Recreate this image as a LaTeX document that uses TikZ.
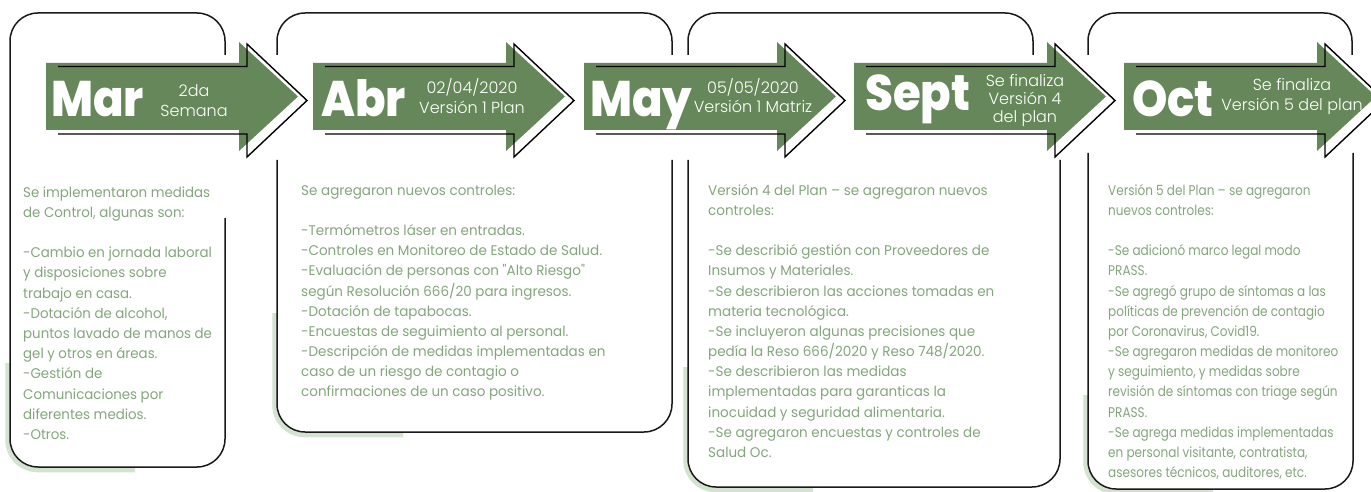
\documentclass[tikz,border=0pt]{standalone}
\usepackage{fontspec}
\setmainfont{Poppins}
\IfFontExistsTF{Poppins Light}{\newfontfamily\lightf{Poppins Light}}{\newfontfamily\lightf{Poppins}}
\IfFontExistsTF{Poppins ExtraBold}{\newfontfamily\heavyf{Poppins ExtraBold}[FakeStretch=0.9]}{%
  \IfFontExistsTF{Poppins Bold}{\newfontfamily\heavyf{Poppins Bold}[FakeStretch=0.9]}{\newfontfamily\heavyf{Poppins}[FakeStretch=0.9]}}
\newfontfamily\bodyf{Poppins}[FakeStretch=0.955]
\newfontfamily\bodyg{Poppins}[FakeStretch=0.965]
\newfontfamily\bodyh{Poppins}[FakeStretch=0.86]
\definecolor{arrowgreen}{RGB}{102,135,90}
\definecolor{textgreen}{RGB}{132,166,124}
\definecolor{shadowgreen}{RGB}{211,227,208}
\definecolor{linegray}{RGB}{25,25,25}
\begin{document}
\begin{tikzpicture}[x=1pt,y=-1pt,
  panel/.style={draw=linegray, line width=1.5pt, rounded corners=28pt},
  shade/.style={draw=shadowgreen, line width=4.5pt, rounded corners=30pt},
  greenarrow/.style={fill=arrowgreen},
  arrowline/.style={draw=black, line width=1.4pt, line join=miter},
  month/.style={anchor=base west, inner sep=0pt, text=white, font=\heavyf\fontsize{50}{50}\selectfont},
  sub/.style={anchor=base, inner sep=0pt, text=white, font=\lightf\fontsize{16}{19.5}\selectfont},
  body/.style={anchor=base west, inner sep=0pt, text=textgreen, font=\bodyf\fontsize{14}{20.2}\selectfont}]
\useasboundingbox (0,0) rectangle (1371,492);
\fill[white] (0,0) rectangle (1371,492);

% shadows
\draw[shade] (7.5,363) -- (7.5,470) -- (135,470);
\draw[shade] (274.5,313) -- (274.5,435) -- (403,435);
\draw[shade] (685.5,367) -- (685.5,490) -- (813,490);
\draw[shade] (1085.5,395) -- (1085.5,492) -- (1213,492);

% panels
\draw[panel] (225,55) -- (225,13) -- (10,13) -- (10,467) -- (225,467) -- (225,218);
\draw[panel] (277,55) -- (277,13) -- (672,13) -- (672,55);
\draw[panel] (277,160) -- (277,432) -- (672,432) -- (672,160);
\draw[panel] (688,55) -- (688,13) -- (1033,13) -- (1033,55);
\draw[panel] (688,160) -- (688,487) -- (1060,487) -- (1060,160);
\draw[panel] (1088,55) -- (1088,13) -- (1352,13) -- (1352,55);
\draw[panel] (1088,153) -- (1088,489) -- (1353,489) -- (1353,153);

% arrows
\foreach \x in {46,313,584,854,1124}{
  \fill[greenarrow] (\x,63) -- (\x+193,63) -- (\x+193,42) -- (\x+252,96.5) -- (\x+193,151) -- (\x+193,130) -- (\x,130) -- cycle;
  \draw[arrowline] (\x+12,66.5) -- (\x+201,66.5) -- (\x+201,44) -- (\x+261,100.5) -- (\x+201,157) -- (\x+201,134) -- (\x+12,134);
}

% month labels
\node[month] (mar) at (51,117) {Mar};
\node[month] (abr) at (321,117) {Abr};
\node[month] (may) at (590,117) {May};
\node[month] (sept) at (865,111) {Sept};
\node[month] (oct) at (1132,117) {Oct};

\node[sub] (marsub) at (194,97) {\begin{tabular}[t]{@{}c@{}}2da\\Semana\end{tabular}};
\node[sub] (abrsub) at (472,94) {\begin{tabular}[t]{@{}c@{}}02/04/2020\\Versión 1 Plan\end{tabular}};
\node[sub] (maysub) at (753,93.5) {\begin{tabular}[t]{@{}c@{}}05/05/2020\\Versión 1 Matriz\end{tabular}};
\node[sub, font=\lightf\fontsize{16}{18}\selectfont] (septsub) at (1025,87) {\begin{tabular}[t]{@{}c@{}}Se finaliza\\Versión 4\\del plan\end{tabular}};
\node[sub] (octsub) at (1292,91) {\begin{tabular}[t]{@{}c@{}}Se finaliza\\Versión 5 del plan\end{tabular}};

% body texts
\node[body] (t1) at (23,197) {\begin{tabular}[t]{@{}l@{}}
Se implementaron medidas\\
de Control, algunas son:\\
\\
-Cambio en jornada laboral\\
y disposiciones sobre\\
trabajo en casa.\\
-Dotación de alcohol,\\
puntos lavado de manos de\\
gel y otros en áreas.\\
-Gestión de\\
Comunicaciones por\\
diferentes medios.\\
-Otros.
\end{tabular}};

\node[body, font=\bodyg\fontsize{14}{20.2}\selectfont] (t2) at (301,195) {\begin{tabular}[t]{@{}l@{}}
Se agregaron nuevos controles:\\
\\
-Termómetros láser en entradas.\\
-Controles en Monitoreo de Estado de Salud.\\
-Evaluación de personas con "Alto Riesgo"\\
según Resolución 666/20 para ingresos.\\
-Dotación de tapabocas.\\
-Encuestas de seguimiento al personal.\\
-Descripción de medidas implementadas en\\
caso de un riesgo de contagio o\\
confirmaciones de un caso positivo.
\end{tabular}};

\node[body, font=\bodyg\fontsize{14}{20.2}\selectfont] (t3) at (708,195) {\begin{tabular}[t]{@{}l@{}}
Versión 4 del Plan – se agregaron nuevos\\
controles:\\
\\
-Se describió gestión con Proveedores de\\
Insumos y Materiales.\\
-Se describieron las acciones tomadas en\\
materia tecnológica.\\
-Se incluyeron algunas precisiones que\\
pedía la Reso 666/2020 y Reso 748/2020.\\
-Se describieron las medidas\\
implementadas para garanticas la\\
inocuidad y seguridad alimentaria.\\
-Se agregaron encuestas y controles de\\
Salud Oc.
\end{tabular}};

\node[body, font=\bodyh\fontsize{14}{20.2}\selectfont] (t5) at (1108,195) {\begin{tabular}[t]{@{}l@{}}
Versión 5 del Plan – se agregaron\\
nuevos controles:\\
\\
-Se adicionó marco legal modo\\
PRASS.\\
-Se agregó grupo de síntomas a las\\
políticas de prevención de contagio\\
por Coronavirus, Covid19.\\
-Se agregaron medidas de monitoreo\\
y seguimiento, y medidas sobre\\
revisión de síntomas con triage según\\
PRASS.\\
-Se agrega medidas implementadas\\
en personal visitante, contratista,\\
asesores técnicos, auditores, etc.
\end{tabular}};
\end{tikzpicture}
\end{document}
